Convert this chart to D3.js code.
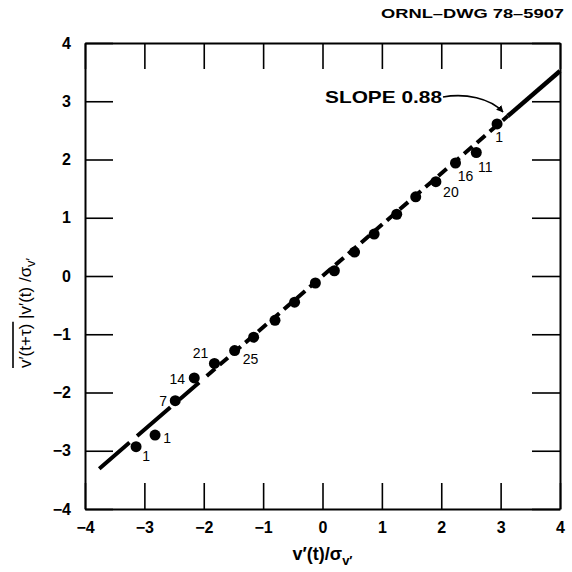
<!DOCTYPE html>
<html>
<head>
<meta charset="utf-8">
<script src="https://cdn.jsdelivr.net/npm/d3@7"></script>
<style>
  body { margin: 0; background: white; }
  svg { display: block; }
  text { font-family: "Liberation Sans", Arial, sans-serif; fill: black; }
</style>
</head>
<body>
<div id="chart"></div>
<script>
// normalised velocity v'(t)/sigma and conditional mean of v'(t+tau)
var xVals = [-3.14, -2.82, -2.48, -2.16, -1.82, -1.48, -1.16, -0.80, -0.47, -0.12,
             0.20, 0.54, 0.87, 1.25, 1.57, 1.91, 2.24, 2.59, 2.94];
var yVals = [-2.93, -2.73, -2.14, -1.75, -1.50, -1.28, -1.05, -0.76, -0.45, -0.12,
             0.09, 0.41, 0.72, 1.06, 1.36, 1.62, 1.94, 2.12, 2.61];
var pointLabels = ["1", "1", "7", "14", "21", "25", "", "", "", "",
                   "", "", "", "", "", "20", "16", "11", "1"];
var xTicks = [-4, -3, -2, -1, 0, 1, 2, 3, 4];
var yTicks = [-4, -3, -2, -1, 0, 1, 2, 3, 4];
var slope = 0.88;
var fitLow = [-3.76, -1.95];   // long dashes
var fitMid = [-1.95, 3.12];    // short dashes
var fitHigh = [3.12, 4];       // solid part

// label offsets in px (layout only)
var labelDx = [10, 12, -12, -17, -14, 16, 0, 0, 0, 0, 0, 0, 0, 0, 0, 15, 10, 9, 2];
var labelDy = [14, 8, 5, 6, -5, 13, 0, 0, 0, 0, 0, 0, 0, 0, 0, 15, 18, 19, 18];

var W = 572, H = 572;
var pLeft = 85, pRight = 560, pTop = 43, pBottom = 509;

var svg = d3.select("#chart")
  .append("svg")
  .attr("width", W)
  .attr("height", H)
  .style("background", "white");

var xscale = d3.scaleLinear().domain([-4, 4]).range([pLeft, pRight]);
var yscale = d3.scaleLinear().domain([-4, 4]).range([pBottom, pTop]);

function styleAxis(g) {
  g.select(".domain").attr("stroke", "black").attr("stroke-width", 2);
  g.selectAll(".tick line").attr("stroke", "black").attr("stroke-width", 1.6);
  g.selectAll("text")
    .style("font-size", "16px")
    .style("font-weight", "bold");
}

svg.append("g")
  .attr("transform", "translate(0," + pBottom + ")")
  .call(d3.axisBottom(xscale).tickValues(xTicks).tickSizeInner(-26).tickSizeOuter(0).tickPadding(13).tickFormat(d3.format("d")))
  .call(styleAxis);

svg.append("g")
  .attr("transform", "translate(" + pLeft + ",0)")
  .call(d3.axisLeft(yscale).tickValues(yTicks).tickSizeInner(-28).tickSizeOuter(0).tickPadding(14).tickFormat(d3.format("d")))
  .call(styleAxis);

svg.append("g")
  .attr("transform", "translate(0," + pTop + ")")
  .call(d3.axisTop(xscale).tickValues(xTicks).tickSizeInner(-26).tickSizeOuter(0).tickFormat(""))
  .call(styleAxis);

svg.append("g")
  .attr("transform", "translate(" + pRight + ",0)")
  .call(d3.axisRight(yscale).tickValues(yTicks).tickSizeInner(-28).tickSizeOuter(0).tickFormat(""))
  .call(styleAxis);

// fitted line, slope 0.88
var fitLine = d3.line()
  .x(function (d) { return xscale(d) })
  .y(function (d) { return yscale(slope * d) });

svg.append("path")
  .datum(fitLow)
  .attr("d", fitLine)
  .attr("fill", "none")
  .attr("stroke", "black")
  .attr("stroke-width", 4)
  .attr("stroke-dasharray", "40,10,44,12,26,10");

svg.append("path")
  .datum(fitMid)
  .attr("d", fitLine)
  .attr("fill", "none")
  .attr("stroke", "black")
  .attr("stroke-width", 4)
  .attr("stroke-dasharray", "11,6");

svg.append("path")
  .datum(fitHigh)
  .attr("d", fitLine)
  .attr("fill", "none")
  .attr("stroke", "black")
  .attr("stroke-width", 4.5);

// data points
svg.selectAll("circle")
  .data(xVals)
  .enter()
  .append("circle")
  .attr("cx", function (d) { return xscale(d) })
  .attr("cy", function (d, i) { return yscale(yVals[i]) })
  .attr("r", 5.5)
  .attr("fill", "black");

svg.selectAll("text.plabel")
  .data(pointLabels)
  .enter()
  .append("text")
  .attr("class", "plabel")
  .attr("x", function (d, i) { return xscale(xVals[i]) + labelDx[i] })
  .attr("y", function (d, i) { return yscale(yVals[i]) + labelDy[i] })
  .attr("text-anchor", "middle")
  .style("font-size", "14px")
  .text(function (d) { return d });

// slope annotation
svg.append("defs").append("marker")
  .attr("id", "arrow")
  .attr("viewBox", "0 0 10 10")
  .attr("refX", 9)
  .attr("refY", 5)
  .attr("markerWidth", 7)
  .attr("markerHeight", 7)
  .attr("markerUnits", "userSpaceOnUse")
  .attr("orient", "auto")
  .append("path")
  .attr("d", "M0,0 L10,5 L0,10 z")
  .attr("fill", "black");

svg.append("text")
  .attr("x", 325)
  .attr("y", 103)
  .attr("textLength", 117)
  .attr("lengthAdjust", "spacingAndGlyphs")
  .style("font-size", "17px")
  .style("font-weight", "bold")
  .text("SLOPE 0.88");

svg.append("path")
  .attr("d", "M443,97 C465,93 490,98 503,112")
  .attr("fill", "none")
  .attr("stroke", "black")
  .attr("stroke-width", 1.6)
  .attr("marker-end", "url(#arrow)");

// drawing number
svg.append("text")
  .attr("x", 381)
  .attr("y", 18)
  .attr("textLength", 183)
  .attr("lengthAdjust", "spacingAndGlyphs")
  .style("font-size", "13px")
  .style("font-weight", "bold")
  .text("ORNL\u2013DWG 78\u20135907");

// x axis title
var xt = svg.append("text")
  .attr("x", (pLeft + pRight) / 2)
  .attr("y", 560)
  .attr("text-anchor", "middle")
  .style("font-size", "18px")
  .style("font-weight", "bold");
xt.append("tspan").text("v\u2032(t)/\u03c3");
xt.append("tspan").attr("dy", 5).style("font-size", "13px").text("v\u2032");

// y axis title with overline
var yg = svg.append("g")
  .attr("transform", "translate(31,313) rotate(-90)");
var yt = yg.append("text")
  .attr("x", 0)
  .attr("y", 0)
  .style("font-size", "17px");
yt.append("tspan").text("v\u2032(t+\u03c4)");
yt.append("tspan").text("  |v\u2032(t) /\u03c3");
yt.append("tspan").attr("dy", 4).style("font-size", "13px").text("v\u2032");

var totalLen = yt.node().getComputedTextLength();
var overLen = yt.node().getSubStringLength(0, 7);
yt.attr("x", -totalLen / 2);
yg.append("line")
  .attr("x1", -totalLen / 2)
  .attr("x2", -totalLen / 2 + overLen + 2)
  .attr("y1", -18)
  .attr("y2", -18)
  .attr("stroke", "black")
  .attr("stroke-width", 1.6);
</script>
</body>
</html>
